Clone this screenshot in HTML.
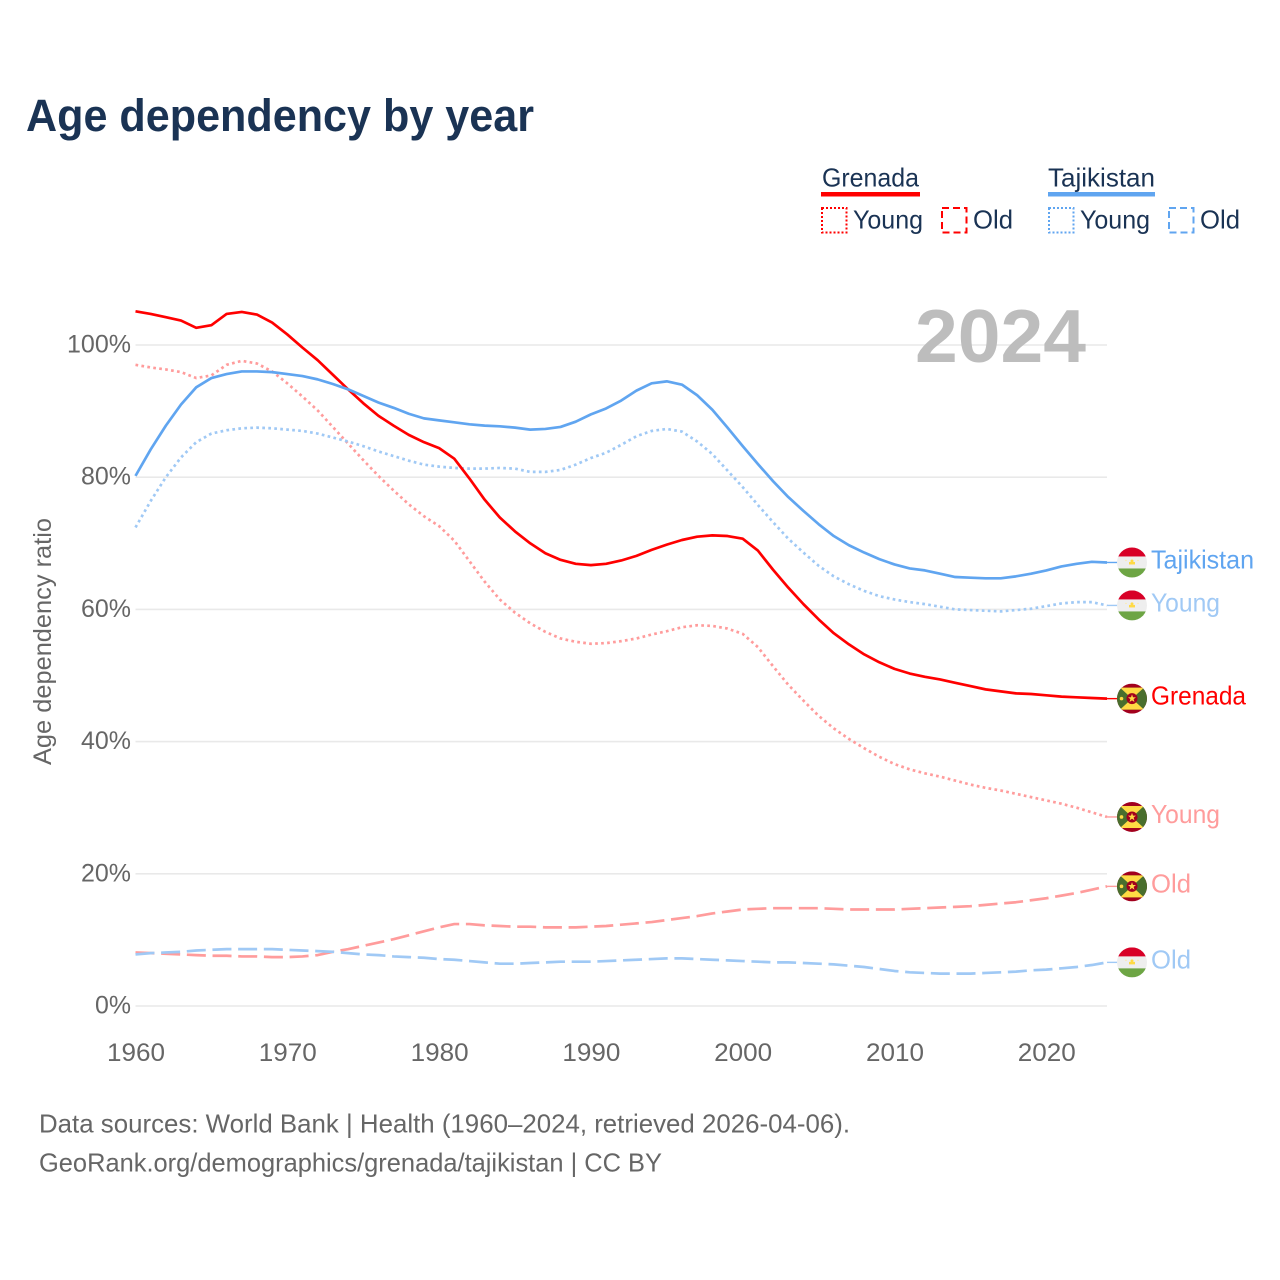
<!DOCTYPE html>
<html lang="en">
<head>
<meta charset="utf-8">
<title>Age dependency by year</title>
<style>
html,body{margin:0;padding:0;background:#fff;}
svg{display:block;}
text{font-family:"Liberation Sans",Arial,sans-serif;}
</style>
</head>
<body>
<svg id="chart" xmlns="http://www.w3.org/2000/svg" width="1280" height="1280" viewBox="0 0 1280 1280">
  <rect width="1280" height="1280" fill="#ffffff"/>
  <text x="26" y="131" font-size="45" font-weight="700" fill="#1a3354" textLength="508" lengthAdjust="spacingAndGlyphs">Age dependency by year</text>

  <g>
    <text x="822" y="186.500" font-size="26" fill="#1a3354" textLength="97" lengthAdjust="spacingAndGlyphs">Grenada</text>
    <rect x="821" y="192" width="99" height="4.5" fill="#ff0000"/>
    <rect x="822" y="208" width="24.500" height="24.500" fill="none" stroke="#ff0000" stroke-width="2" stroke-dasharray="2 2"/>
    <text x="853" y="228.500" font-size="26" fill="#1a3354" textLength="70" lengthAdjust="spacingAndGlyphs">Young</text>
    <rect x="942" y="208" width="24.500" height="24.500" fill="none" stroke="#ff0000" stroke-width="2" stroke-dasharray="7 4"/>
    <text x="973" y="228.500" font-size="26" fill="#1a3354" textLength="40" lengthAdjust="spacingAndGlyphs">Old</text>

    <text x="1048" y="186.500" font-size="26" fill="#1a3354" textLength="107" lengthAdjust="spacingAndGlyphs">Tajikistan</text>
    <rect x="1048" y="192" width="107" height="4.5" fill="#60a5f0"/>
    <rect x="1049" y="208" width="24.500" height="24.500" fill="none" stroke="#60a5f0" stroke-width="2" stroke-dasharray="2 2"/>
    <text x="1080" y="228.500" font-size="26" fill="#1a3354" textLength="70" lengthAdjust="spacingAndGlyphs">Young</text>
    <rect x="1169" y="208" width="24.500" height="24.500" fill="none" stroke="#60a5f0" stroke-width="2" stroke-dasharray="7 4"/>
    <text x="1200" y="228.500" font-size="26" fill="#1a3354" textLength="40" lengthAdjust="spacingAndGlyphs">Old</text>
  </g>

  <g id="grid"></g>
  <text x="915" y="362" font-size="75" font-weight="700" fill="#bdbdbd" textLength="171" lengthAdjust="spacingAndGlyphs">2024</text>
  <g id="yticks"></g>
  <g id="xticks"></g>
  <text transform="translate(51 765) rotate(-90)" x="0" y="0" font-size="25" fill="#666666" textLength="247" lengthAdjust="spacingAndGlyphs">Age dependency ratio</text>
  <g id="series"></g>
  <g id="endmarks"></g>

  <text x="39" y="1132.500" font-size="26" fill="#666666" textLength="811" lengthAdjust="spacingAndGlyphs">Data sources: World Bank | Health (1960–2024, retrieved 2026-04-06).</text>
  <text x="39" y="1171.500" font-size="26" fill="#666666" textLength="623" lengthAdjust="spacingAndGlyphs">GeoRank.org/demographics/grenada/tajikistan | CC BY</text>
</svg>
<script>
const startYear = 1960;
const xTickYears = [1960, 1970, 1980, 1990, 2000, 2010, 2020];
const yTickValues = [0, 20, 40, 60, 80, 100];

const grenadaTotal = [105.1,104.7,104.2,103.7,102.6,103.0,104.7,105.0,104.6,103.4,101.6,99.6,97.7,95.5,93.3,91.2,89.3,87.8,86.4,85.3,84.4,82.8,79.8,76.6,73.9,71.8,70.0,68.5,67.5,66.9,66.7,66.9,67.4,68.1,69.0,69.8,70.5,71.0,71.2,71.1,70.7,68.9,66.0,63.3,60.8,58.5,56.4,54.7,53.2,52.0,51.0,50.3,49.8,49.4,48.9,48.4,47.9,47.6,47.3,47.2,47.0,46.8,46.7,46.6,46.5];
const grenadaYoung = [97.0,96.6,96.3,95.9,95.0,95.4,97.0,97.6,97.2,96.0,94.2,92.2,90.1,87.6,85.1,82.6,80.2,78.0,75.9,74.1,72.6,70.4,67.3,64.2,61.5,59.5,57.9,56.6,55.6,55.1,54.8,54.9,55.2,55.6,56.2,56.7,57.3,57.6,57.5,57.1,56.3,54.3,51.4,48.6,46.2,43.9,42.0,40.4,39.0,37.7,36.6,35.8,35.2,34.7,34.1,33.5,33.0,32.6,32.1,31.6,31.1,30.6,30.0,29.3,28.6];
const grenadaOld = [8.1,8.0,7.9,7.8,7.7,7.6,7.6,7.5,7.5,7.4,7.4,7.5,7.7,8.2,8.6,9.1,9.6,10.1,10.7,11.3,11.9,12.4,12.4,12.2,12.1,12.0,12.0,11.9,11.9,11.9,12.0,12.1,12.3,12.5,12.7,13.0,13.3,13.6,14.0,14.3,14.6,14.7,14.8,14.8,14.8,14.8,14.7,14.6,14.6,14.6,14.6,14.7,14.8,14.9,15.0,15.1,15.3,15.5,15.7,16.0,16.3,16.7,17.1,17.6,18.1];
const tajikistanTotal = [80.2,84.2,87.8,91.0,93.6,95.0,95.6,96.0,96.0,95.9,95.6,95.3,94.8,94.1,93.3,92.3,91.3,90.5,89.6,88.9,88.6,88.3,88.0,87.8,87.7,87.5,87.2,87.3,87.6,88.4,89.5,90.4,91.6,93.1,94.2,94.5,94.0,92.4,90.2,87.5,84.7,82.0,79.4,77.0,74.9,72.9,71.1,69.7,68.6,67.6,66.8,66.2,65.9,65.4,64.9,64.8,64.7,64.7,65.0,65.4,65.9,66.5,66.9,67.2,67.1];
const tajikistanYoung = [72.4,76.4,80.0,83.0,85.3,86.6,87.1,87.4,87.5,87.4,87.2,87.0,86.6,86.0,85.4,84.7,83.9,83.2,82.5,81.9,81.6,81.4,81.3,81.3,81.4,81.3,80.8,80.8,81.1,81.9,82.9,83.7,84.9,86.2,87.0,87.3,86.9,85.4,83.5,81.0,78.5,75.8,73.2,70.7,68.6,66.6,65.0,63.8,62.8,62.0,61.5,61.1,60.8,60.4,60.0,59.9,59.8,59.7,59.9,60.1,60.5,60.9,61.1,61.1,60.6];
const tajikistanOld = [7.8,8.0,8.1,8.2,8.4,8.5,8.6,8.6,8.6,8.6,8.5,8.4,8.3,8.2,8.0,7.8,7.7,7.5,7.4,7.3,7.1,7.0,6.8,6.6,6.4,6.4,6.5,6.6,6.7,6.7,6.7,6.8,6.9,7.0,7.1,7.2,7.2,7.1,7.0,6.9,6.8,6.7,6.6,6.6,6.5,6.4,6.3,6.1,5.9,5.6,5.3,5.1,5.0,4.9,4.9,4.9,5.0,5.1,5.2,5.4,5.5,5.7,5.9,6.2,6.6];

const NS = 'http://www.w3.org/2000/svg';
const RED = '#ff0000', RED_LIGHT = '#ff9c9c', BLUE = '#60a5f0', BLUE_LIGHT = '#a0c9f5';
function xScale(year){ return 135.5 + (year - 1960) * 15.18; }
function yScale(v){ return 1006 - v * 6.61; }

function make(parent, tag, attrs, text){
  const el = document.createElementNS(NS, tag);
  for (const k in attrs) el.setAttribute(k, attrs[k]);
  if (text !== undefined) el.textContent = text;
  parent.appendChild(el);
  return el;
}

const gridG = document.getElementById('grid');
const yG = document.getElementById('yticks');
const xG = document.getElementById('xticks');
const seriesG = document.getElementById('series');
const endG = document.getElementById('endmarks');

yTickValues.forEach(function(v){
  const gl = make(gridG, 'line', {x1:135.5, x2:1107, y1:yScale(v), y2:yScale(v), stroke:'#e9e9e9', 'stroke-width':1.6});
  
  
  const t = make(yG, 'text', {x:131, y:yScale(v) + 7.5, 'font-size':25, fill:'#666666', 'text-anchor':'end', textLength:(String(v).length * 14 + 22), lengthAdjust:'spacingAndGlyphs'}, v + '%');
  
  
});

xTickYears.forEach(function(yr){
  const t = make(xG, 'text', {x:xScale(yr) + 0.5, y:1061, 'font-size':25, fill:'#666666', 'text-anchor':'middle', textLength:58, lengthAdjust:'spacingAndGlyphs'}, String(yr));
  
  
});

function drawLine(name, values, color, dash, width){
  const pts = values.map(function(v, i){ return xScale(startYear + i).toFixed(2) + ',' + yScale(v).toFixed(2); }).join(' ');
  const attrs = {points:pts, fill:'none', stroke:color, 'stroke-width':width, 'stroke-linejoin':'round'};
  if (dash) attrs['stroke-dasharray'] = dash;
  const p = make(seriesG, 'polyline', attrs);
  
  
  const lastY = yScale(values[values.length - 1]);
  const c = make(seriesG, 'line', {x1:xScale(startYear + values.length - 1), x2:1118, y1:lastY, y2:lastY, stroke:color, 'stroke-width':1.4});
  
  
}

const DOT = '2.7 3.3', DASH = '19 6.7';
drawLine('line-grenada-old', grenadaOld, RED_LIGHT, DASH, 2.7);
drawLine('line-tajikistan-old', tajikistanOld, BLUE_LIGHT, DASH, 2.7);
drawLine('line-grenada-young', grenadaYoung, RED_LIGHT, DOT, 2.7);
drawLine('line-tajikistan-young', tajikistanYoung, BLUE_LIGHT, DOT, 2.7);
drawLine('line-grenada-total', grenadaTotal, RED, null, 2.7);
drawLine('line-tajikistan-total', tajikistanTotal, BLUE, null, 2.7);

let clipCount = 0;
function flagFrame(name, cy){
  clipCount += 1;
  const id = 'flagclip' + clipCount;
  const cp = make(endG, 'clipPath', {id:id});
  make(cp, 'circle', {cx:1132, cy:cy, r:15});
  const g = make(endG, 'g', {'clip-path':'url(#' + id + ')'});
  
  
  return g;
}
function tajikFlag(name, cy){
  const g = flagFrame(name, cy);
  make(g, 'rect', {x:1117, y:cy - 15, width:30, height:30, fill:'#eeeeee'});
  make(g, 'rect', {x:1117, y:cy - 15, width:30, height:9, fill:'#d80027'});
  make(g, 'rect', {x:1117, y:cy + 6, width:30, height:9, fill:'#6da544'});
  make(g, 'rect', {x:1129, y:cy - 0.5, width:6, height:2.5, fill:'#ffda44'});
  make(g, 'circle', {cx:1132, cy:cy - 1.5, r:1.5, fill:'#ffda44'});
  make(g, 'circle', {cx:1126, cy:cy - 2, r:0.7, fill:'#ffe9a0'});
  make(g, 'circle', {cx:1138, cy:cy - 2, r:0.7, fill:'#ffe9a0'});
}
function grenadaFlag(name, cy){
  const g = flagFrame(name, cy);
  make(g, 'rect', {x:1117, y:cy - 15, width:30, height:30, fill:'#a2001d'});
  make(g, 'rect', {x:1117, y:cy - 11, width:30, height:22, fill:'#496e2d'});
  make(g, 'polygon', {points:[1120,cy-11,1144,cy-11,1132,cy,1144,cy+11,1120,cy+11,1132,cy].join(' '), fill:'#ffda44'});
  make(g, 'circle', {cx:1132, cy:cy, r:5.5, fill:'#a2001d'});
  const pts = [];
  for (let i = 0; i < 10; i++){
    const r = i % 2 ? 1.7 : 4.2, a = -Math.PI / 2 + i * Math.PI / 5;
    pts.push((1132 + r * Math.cos(a)).toFixed(2) + ',' + (cy + r * Math.sin(a)).toFixed(2));
  }
  make(g, 'polygon', {points:pts.join(' '), fill:'#ffda44'});
  make(g, 'circle', {cx:1121.5, cy:cy, r:1.8, fill:'#ffda44'});
}
function endLabel(name, text, color, width, cy){
  const t = make(endG, 'text', {x:1151, y:cy + 6, 'font-size':26, fill:color, textLength:width, lengthAdjust:'spacingAndGlyphs'}, text);
  
  
}
function lastY(values){ return yScale(values[values.length - 1]); }

tajikFlag('flag-tajikistan-total', lastY(tajikistanTotal));
endLabel('label-tajikistan-total', 'Tajikistan', BLUE, 103, lastY(tajikistanTotal));
tajikFlag('flag-tajikistan-young', lastY(tajikistanYoung));
endLabel('label-tajikistan-young', 'Young', BLUE_LIGHT, 69, lastY(tajikistanYoung));
tajikFlag('flag-tajikistan-old', lastY(tajikistanOld));
endLabel('label-tajikistan-old', 'Old', BLUE_LIGHT, 40, lastY(tajikistanOld));
grenadaFlag('flag-grenada-total', lastY(grenadaTotal));
endLabel('label-grenada-total', 'Grenada', RED, 95, lastY(grenadaTotal));
grenadaFlag('flag-grenada-young', lastY(grenadaYoung));
endLabel('label-grenada-young', 'Young', RED_LIGHT, 69, lastY(grenadaYoung));
grenadaFlag('flag-grenada-old', lastY(grenadaOld));
endLabel('label-grenada-old', 'Old', RED_LIGHT, 40, lastY(grenadaOld));
</script>
</body>
</html>
